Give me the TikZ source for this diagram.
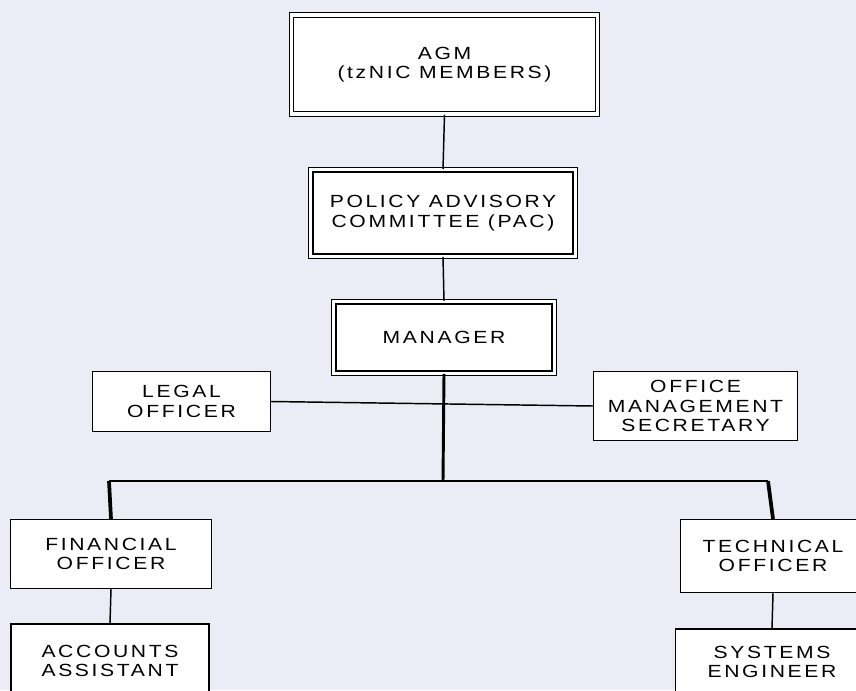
\documentclass[tikz,border=0pt]{standalone}
\usepackage{fontspec}
\setmainfont{Liberation Sans}
\newfontfamily\orgfont[LetterSpace=15,FakeStretch=1.2]{Liberation Sans}
\definecolor{pagebg}{RGB}{236,236,246}

\begin{document}
\begin{tikzpicture}[x=0.75pt,y=0.75pt,yscale=-1,xscale=1,
  orgbox/.style={draw=black,fill=white,line width=0.85pt,align=center,inner sep=0pt,
    font=\orgfont\fontsize{13.2}{14.6}\selectfont},
  dblbox/.style={orgbox,double=white,double distance=2.6pt},
  thinlink/.style={line width=1.1pt},
  thicklink/.style={line width=2.2pt}]

% Background
\fill [pagebg] (0,0) rectangle (856,690);
\useasboundingbox (0,0) rectangle (856,690);

%Shape: Double Boxes
\node [dblbox,minimum width=229.5pt,minimum height=74.3pt] (agm) at (444.5,64.5) {AGM\\(tzNIC MEMBERS)};
\node [dblbox,minimum width=198.5pt,minimum height=65pt] (pac) at (443,213) {POLICY ADVISORY\\COMMITTEE (PAC)};
\node [dblbox,minimum width=165.5pt,minimum height=53.7pt] (mgr) at (444,337.5) {MANAGER};

%Shape: Boxes
\node [orgbox,minimum width=133.5pt,minimum height=45pt] (legal) at (181.5,401.5) {LEGAL\\OFFICER};
\node [orgbox,minimum width=153pt,minimum height=51.75pt] (office) at (695.5,406) {OFFICE\\MANAGEMENT\\SECRETARY};
\node [orgbox,minimum width=150.75pt,minimum height=51.75pt] (fin) at (111,554) {FINANCIAL\\OFFICER};
\node [orgbox,minimum width=138.75pt,minimum height=54.75pt] (tech) at (773,556) {TECHNICAL\\OFFICER};
\node [orgbox,minimum width=148.5pt,minimum height=55.5pt] (acc) at (110,661) {ACCOUNTS\\ASSISTANT};
\node [orgbox,minimum width=144.75pt,minimum height=49.5pt] (sys) at (772,662) {SYSTEMS\\ENGINEER};

% Bar coordinates
\coordinate (hub) at (443,481);
\coordinate (barL) at (109,481);
\coordinate (barR) at (768,481);

%Straight Lines
\draw [thinlink] (agm.south) -- (pac.north);
\draw [thinlink] (pac.south) -- (mgr.north);
\draw [thinlink] (legal.east) -- (office.west);
\draw [thicklink] (mgr.south) -- (hub);
\draw [line width=1.8pt] (barL) -- (barR);
\draw [line width=2.8pt] (barL) -- (fin.north);
\draw [line width=2.8pt] (barR) -- (tech.north);
\draw [thinlink] (fin.south) -- (acc.north);
\draw [thinlink] (tech.south) -- (sys.north);
\end{tikzpicture}
\end{document}
